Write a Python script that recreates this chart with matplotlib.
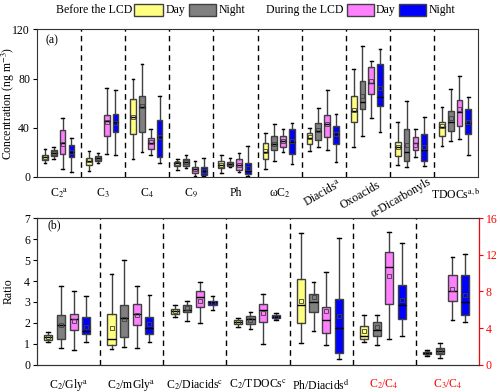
import numpy as np
import matplotlib.pyplot as plt
from matplotlib.patches import Rectangle

plt.rcParams['font.family'] = ['Liberation Serif', 'DejaVu Serif']
plt.rcParams['mathtext.fontset'] = 'stix'
plt.rcParams['font.size'] = 8.5

# box stats per category: [whislo, q1, median, q3, whishi, mean]
a_labels = ["C$_2$$^{\\mathrm{a}}$", "C$_3$", "C$_4$", "C$_9$", "Ph", "\u03c9C$_2$",
            "Diacids$^{\\mathrm{a}}$", "Oxoacids", "\u03b1-Dicarbonyls",
            "TDOCs$^{\\mathrm{a,b}}$"]
a_before_day = [[10.9, 13.6, 16.0, 17.9, 22.3, 16.0],
                [4.9, 9.5, 12.5, 15.2, 21.2, 13.5],
                [14.7, 34.5, 48.8, 63.5, 80.0, 49.0],
                [5.5, 9.0, 11.0, 11.7, 14.1, 11.0],
                [3.3, 7.3, 10.0, 13.0, 17.7, 10.0],
                [6.3, 14.1, 20.4, 27.7, 35.3, 21.0],
                [21.2, 26.4, 31.8, 35.3, 39.4, 32.0],
                [24.4, 44.3, 53.5, 65.9, 87.5, 54.0],
                [9.5, 17.1, 24.4, 28.5, 44.3, 24.0],
                [25.3, 33.4, 40.7, 44.8, 57.0, 41.0]]
a_before_night = [[14.7, 16.9, 19.5, 21.7, 24.4, 19.5],
                  [10.9, 12.8, 15.0, 16.9, 19.5, 15.0],
                  [19.9, 36.7, 56.5, 65.9, 91.5, 58.0],
                  [7.3, 9.0, 12.0, 14.1, 17.7, 12.0],
                  [7.6, 8.7, 10.5, 12.0, 15.5, 10.5],
                  [12.8, 22.2, 26.6, 33.1, 42.7, 27.0],
                  [24.4, 29.8, 37.2, 43.9, 56.2, 38.0],
                  [33.1, 54.9, 61.0, 78.2, 106.4, 66.0],
                  [8.1, 12.8, 20.4, 38.8, 61.4, 26.0],
                  [29.0, 37.2, 44.8, 53.8, 71.7, 48.0]]
a_during_day = [[6.0, 18.5, 27.5, 37.8, 47.5, 27.0],
                [18.2, 33.1, 45.6, 50.0, 72.0, 45.0],
                [17.7, 22.6, 27.2, 31.3, 38.6, 28.0],
                [0.6, 3.3, 6.0, 8.1, 12.8, 6.0],
                [4.0, 5.5, 10.0, 14.1, 19.5, 10.0],
                [20.4, 23.9, 29.0, 33.1, 38.6, 29.0],
                [21.7, 32.5, 42.9, 50.2, 70.6, 43.0],
                [47.5, 67.1, 76.0, 89.6, 94.4, 78.0],
                [15.8, 21.7, 27.2, 32.1, 38.6, 26.0],
                [30.4, 41.3, 53.0, 62.3, 81.9, 55.0]]
a_during_night = [[4.0, 16.3, 20.4, 25.5, 31.3, 20.0],
                  [17.7, 36.1, 44.3, 50.8, 70.6, 44.0],
                  [10.9, 15.8, 32.6, 46.2, 66.0, 32.0],
                  [0.5, 1.4, 5.0, 8.1, 15.7, 5.0],
                  [0.5, 2.2, 5.0, 11.4, 25.2, 7.0],
                  [10.3, 18.2, 28.5, 38.6, 43.5, 29.0],
                  [11.7, 26.6, 34.8, 41.5, 50.8, 35.0],
                  [36.7, 57.7, 65.2, 91.5, 103.7, 72.0],
                  [8.7, 12.8, 21.7, 34.5, 48.9, 24.0],
                  [17.7, 34.5, 43.5, 54.9, 65.2, 45.0]]

b_labels = ["C$_2$/Gly$^{\\mathrm{a}}$", "C$_2$/mGly$^{\\mathrm{a}}$",
            "C$_2$/Diacids$^{\\mathrm{c}}$", "C$_2$/TDOCs$^{\\mathrm{c}}$",
            "Ph/Diacids$^{\\mathrm{d}}$", "C$_2$/C$_4$", "C$_3$/C$_4$"]
# first five ratios on the left axis
b_before_day = [[1.07, 1.16, 1.30, 1.40, 1.55, 1.32],
                [0.75, 0.96, 1.23, 2.44, 4.34, 1.75],
                [2.26, 2.44, 2.55, 2.66, 2.87, 2.55],
                [1.82, 1.93, 2.03, 2.14, 2.25, 2.03],
                [1.05, 1.98, 2.84, 4.08, 6.28, 3.06]]
b_before_night = [[0.80, 1.20, 1.88, 2.36, 3.75, 1.88],
                  [0.83, 1.31, 2.23, 2.87, 4.99, 2.20],
                  [2.10, 2.52, 2.63, 2.87, 3.06, 2.70],
                  [1.71, 1.95, 2.19, 2.33, 2.54, 2.15],
                  [1.61, 2.54, 2.98, 3.37, 3.97, 3.22]]
b_during_day = [[0.69, 1.64, 2.20, 2.44, 3.50, 2.10],
                [0.80, 1.91, 2.44, 2.92, 3.75, 2.35],
                [2.00, 2.76, 3.24, 3.50, 3.96, 3.05],
                [0.99, 2.06, 2.60, 2.90, 3.38, 2.49],
                [0.94, 1.50, 2.14, 2.74, 4.45, 2.57]]
b_during_night = [[1.07, 1.44, 1.60, 2.26, 3.30, 1.82],
                  [1.07, 1.48, 1.75, 2.28, 3.35, 1.92],
                  [2.63, 2.87, 3.00, 3.06, 3.27, 2.97],
                  [2.14, 2.22, 2.30, 2.38, 2.49, 2.30],
                  [0.27, 0.54, 1.75, 3.13, 6.04, 2.33]]
# last two ratios on the right (red) axis
r_before_day = [[2.48, 2.77, 3.10, 4.20, 5.40, 3.72],
                [0.98, 1.16, 1.30, 1.41, 1.60, 1.30]]
r_before_night = [[2.12, 3.10, 3.73, 4.63, 5.37, 4.08],
                  [0.69, 1.16, 1.49, 1.78, 2.32, 1.50]]
r_during_day = [[2.75, 6.59, 10.65, 12.28, 14.46, 9.67],
                [4.93, 6.96, 8.04, 9.82, 11.80, 8.30]]
r_during_night = [[3.12, 5.04, 6.56, 8.66, 13.30, 7.10],
                  [4.67, 5.40, 6.85, 9.75, 12.10, 7.64]]

colors = ['#FFFF80', '#808080', '#FF80FF', '#0000FF']
offsets = [0.18, 0.38, 0.58, 0.78]
edge = '#404040'


def draw_boxes(ax, series, start=0):
    for rows, off, col in zip(series, offsets, colors):
        stats = [dict(whislo=r[0], q1=r[1], med=r[2], q3=r[3], whishi=r[4],
                      mean=r[5], fliers=[]) for r in rows]
        pos = [start + i + off for i in range(len(rows))]
        ax.bxp(stats, positions=pos, widths=0.13, capwidths=0.06,
               patch_artist=True, showmeans=True, manage_ticks=False,
               boxprops=dict(facecolor=col, edgecolor=edge, linewidth=1),
               medianprops=dict(color='black', linewidth=1),
               whiskerprops=dict(color=edge, linewidth=1),
               capprops=dict(color='black', linewidth=1),
               meanprops=dict(marker='s', markerfacecolor='none',
                              markeredgecolor=edge, markersize=3,
                              markeredgewidth=0.6))


fig = plt.figure(figsize=(5, 3.92), dpi=100)
ax1 = fig.add_axes([0.074, 0.549, 0.882, 0.376])
ax2 = fig.add_axes([0.074, 0.070, 0.884, 0.373])

# panel (a)
draw_boxes(ax1, [a_before_day, a_before_night, a_during_day, a_during_night])
for x in range(1, len(a_labels)):
    ax1.axvline(x, color='black', linestyle=(0, (4, 3)), linewidth=1)
ax1.set_xlim(0, len(a_labels))
ax1.set_ylim(0, 120)
ax1.set_yticks([0, 40, 80, 120])
ax1.set_xticks([])
# category names under the axis, three of them slanted
slant = {6: (6.46, -0.11), 7: (7.32, -0.125), 8: (8.25, -0.145)}
for i, lab in enumerate(a_labels):
    if i in slant:
        xx, yy = slant[i]
        ax1.text(xx, yy, lab, rotation=30, ha='center', va='center',
                 transform=ax1.get_xaxis_transform())
    else:
        ax1.text(i + 0.5, -0.11, lab, ha='center', va='center',
                 transform=ax1.get_xaxis_transform())
ax1.tick_params(axis='y', length=3, pad=2)
ax1.set_ylabel("Concentration (ng m$^{-3}$)")
ax1.yaxis.set_label_coords(-0.045, 0.5)
ax1.text(0.02, 0.925, "(a)", transform=ax1.transAxes, va='center')
for s in ax1.spines.values():
    s.set_color('#333333')

# panel (b)
draw_boxes(ax2, [b_before_day, b_before_night, b_during_day, b_during_night])
ax2r = ax2.twinx()
draw_boxes(ax2r, [r_before_day, r_before_night, r_during_day, r_during_night],
           start=len(b_before_day))
for x in range(1, len(b_labels)):
    ax2.axvline(x, color='black', linestyle=(0, (4, 3)), linewidth=1)
ax2.set_xlim(0, len(b_labels))
ax2.set_ylim(0, 7)
ax2.set_yticks(range(8))
ax2r.set_ylim(0, 16)
ax2r.set_yticks([0, 4, 8, 12, 16])
ax2.set_xticks(np.arange(len(b_labels)) + 0.5)
ax2.set_xticklabels(b_labels)
for t in ax2.get_xticklabels()[5:]:
    t.set_color('red')
ax2.tick_params(axis='x', length=0, pad=9)
ax2.tick_params(axis='y', length=3, pad=2)
ax2r.tick_params(axis='y', length=3, pad=2, colors='red')
ax2r.spines['right'].set_color('red')
ax2.set_ylabel("Ratio")
ax2.yaxis.set_label_coords(-0.05, 0.5)
ax2.text(0.023, 0.95, "(b)", transform=ax2.transAxes, va='center')
for k in ('left', 'bottom', 'top'):
    ax2.spines[k].set_color('#333333')
    ax2r.spines[k].set_color('#333333')

# legend drawn on the figure
def leg_patch(x0, x1, col):
    fig.patches.append(Rectangle((x0 / 500, 1 - 16 / 392), (x1 - x0) / 500,
                                 12 / 392, transform=fig.transFigure,
                                 facecolor=col, edgecolor=edge, linewidth=1))

ly = 1 - 10 / 392
fig.text(132 / 500, ly, "Before the LCD", ha='right', va='center')
leg_patch(134, 163, colors[0])
fig.text(166 / 500, ly, "Day", ha='left', va='center')
leg_patch(189, 216, colors[1])
fig.text(218.5 / 500, ly, "Night", ha='left', va='center')
fig.text(343.5 / 500, ly, "During the LCD", ha='right', va='center')
leg_patch(346.5, 373.5, colors[2])
fig.text(376 / 500, ly, "Day", ha='left', va='center')
leg_patch(399, 426, colors[3])
fig.text(428.5 / 500, ly, "Night", ha='left', va='center')

fig.savefig("out.png", dpi=100)
